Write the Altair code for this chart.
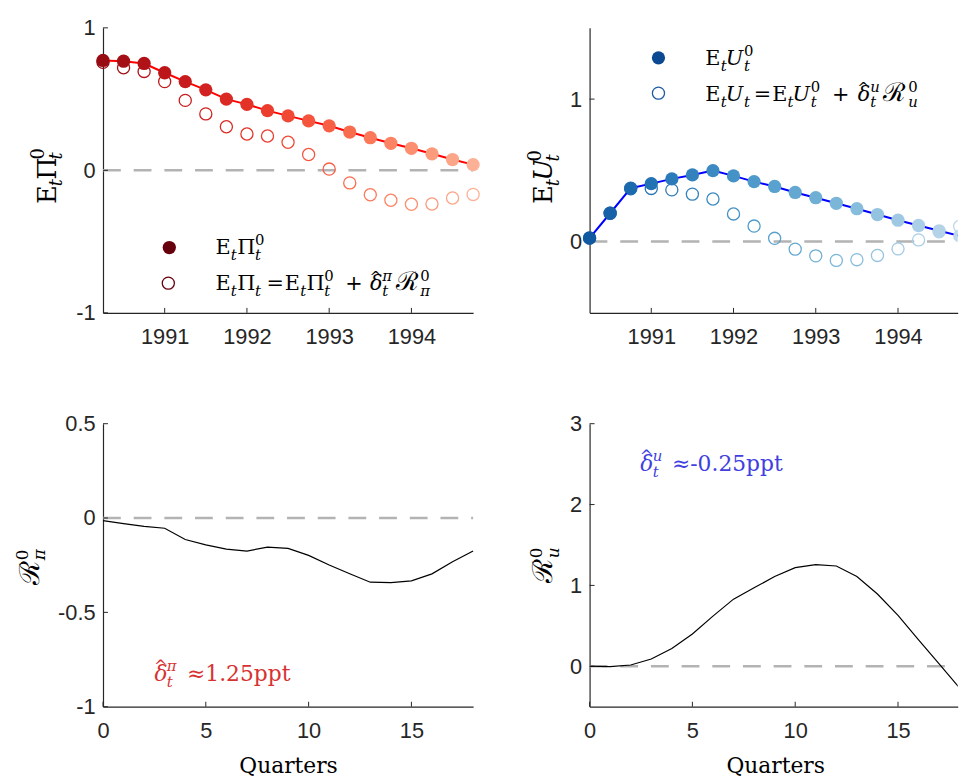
import altair as alt
import pandas as pd

# ---------------- data ----------------
quarters = list(range(19))
dates = [1990.25, 1990.5, 1990.75, 1991.0, 1991.25, 1991.5, 1991.75, 1992.0, 1992.25,
         1992.5, 1992.75, 1993.0, 1993.25, 1993.5, 1993.75, 1994.0, 1994.25, 1994.5, 1994.75]
pi_base = [0.771, 0.766, 0.75, 0.685, 0.623, 0.565, 0.5, 0.463, 0.419, 0.382,
           0.347, 0.3125, 0.269, 0.229, 0.19, 0.155, 0.116, 0.076, 0.04]
pi_total = [0.758, 0.72, 0.694, 0.623, 0.491, 0.396, 0.306, 0.255, 0.241, 0.197,
            0.111, 0.009, -0.088, -0.171, -0.21, -0.238, -0.236, -0.194, -0.169]
u_base = [0.025, 0.199, 0.375, 0.407, 0.44, 0.468, 0.498, 0.461, 0.421, 0.387,
          0.345, 0.308, 0.269, 0.231, 0.19, 0.15, 0.113, 0.076, 0.04]
u_total = [0.025, 0.199, 0.371, 0.373, 0.363, 0.333, 0.299, 0.194, 0.109, 0.023,
           -0.053, -0.1, -0.132, -0.127, -0.097, -0.051, 0.012, 0.069, 0.107]
r_pi = [-0.014, -0.03, -0.044, -0.054, -0.114, -0.142, -0.165, -0.175, -0.154, -0.161,
        -0.198, -0.249, -0.295, -0.34, -0.342, -0.333, -0.296, -0.232, -0.175]
r_u = [0.0, -0.004, 0.016, 0.09, 0.22, 0.40, 0.62, 0.83, 0.97, 1.11,
       1.22, 1.257, 1.24, 1.11, 0.894, 0.63, 0.327, 0.029, -0.27]

year_ticks = [1991, 1992, 1993, 1994]
quarter_ticks = [0, 5, 10, 15]
yticks_tl = [-1, 0, 1]
yticks_tr = [0, 1]
yticks_bl = [-1, -0.5, 0, 0.5]
yticks_br = [0, 1, 2, 3]

top = pd.DataFrame({"k": quarters, "date": dates, "pi0": pi_base, "pi": pi_total,
                    "u0": u_base, "u": u_total})
bot = pd.DataFrame({"q": quarters, "rpi": r_pi, "ru": r_u})
ONE = pd.DataFrame({"o": [0]})
ZERO_DF = pd.DataFrame({"v": [0]})

# ---------------- style ----------------
AX = "#262626"
SERIF = "DejaVu Serif"
W_L, W_R = 374, 372
H_T, H_B = 288, 286
ZERO = dict(strokeDash=[18, 13], color="#b3b3b3", strokeWidth=2.5)
LBL = "replace(datum.label, '\u2212', '-')"

xs_tl = alt.Scale(domain=[1990.25, 1994.75], nice=False, zero=False)
xs_tr = alt.Scale(domain=[1990.25, 1990.25 + 4.5 * W_R / W_L], nice=False, zero=False)
xs_bl = alt.Scale(domain=[0, 18], nice=False, zero=False)
xs_br = alt.Scale(domain=[0, 18 * W_R / W_L], nice=False, zero=False)
ys_tl = alt.Scale(domain=[-1, 1], nice=False, zero=False)
ys_tr = alt.Scale(domain=[-0.5, 1.5], nice=False, zero=False)
ys_bl = alt.Scale(domain=[-1, 0.5], nice=False, zero=False)
ys_br = alt.Scale(domain=[-0.5, 3], nice=False, zero=False)

reds = alt.Scale(scheme={"name": "reds", "extent": [1.0, 0.12]}, domain=[0, 18])
blues = alt.Scale(scheme={"name": "blues", "extent": [0.92, 0.1]}, domain=[0, 18])

ax_year = alt.Axis(values=year_ticks, format="d", title=None)
ax_q_l = alt.Axis(values=quarter_ticks, format="d", title="Quarters")
ax_q_r = alt.Axis(values=quarter_ticks, format="d", title="Quarters", titleX=187.5)


def yax(vals):
    return alt.Axis(values=vals, format="~g", title=None, labelExpr=LBL)


def X(f, s, a):
    return alt.X(f + ":Q", scale=s, axis=a)


def Y(f, s, a):
    return alt.Y(f + ":Q", scale=s, axis=a)


def math_text(pieces, x0, y0, size, color, rotate=False):
    """pieces: (offset, text, role, italic[, size[, dy]])"""
    out = []
    ssz = round(size * 0.7)
    for p in pieces:
        dx, s, role, ital = p[:4]
        if role == "sub":
            fs, off = ssz, 0.27 * size
        elif role == "sup":
            fs, off = ssz, -0.45 * size
        else:
            fs, off = size, 0
        if len(p) > 4 and p[4]:
            fs = p[4]
        if len(p) > 5:
            off = p[5]
        if rotate:
            px, py, ang = x0 + off, y0 - dx, 270
        else:
            px, py, ang = x0 + dx, y0 + off, 0
        out.append(
            alt.Chart(ONE).mark_text(
                text=s, font=SERIF, fontSize=fs,
                fontStyle="italic" if ital else "normal",
                align="left", baseline="alphabetic", angle=ang, color=color,
            ).encode(x=alt.value(px), y=alt.value(py))
        )
    return out


def ticks(xvals, yvals, xs, ys, xa, ya, H):
    return [
        alt.Chart(pd.DataFrame({"v": xvals})).mark_rule(color=AX, strokeWidth=1).encode(
            x=X("v", xs, xa), y=alt.value(H), y2=alt.value(H - 5)),
        alt.Chart(pd.DataFrame({"v": yvals})).mark_rule(color=AX, strokeWidth=1).encode(
            y=Y("v", ys, ya), x=alt.value(0), x2=alt.value(5)),
    ]


def dot(x, y, color, filled, size):
    if filled:
        m = alt.Chart(ONE).mark_point(filled=True, size=size, color=color, opacity=1)
    else:
        m = alt.Chart(ONE).mark_point(filled=False, size=size, color=color, strokeWidth=1.3, opacity=1)
    return m.encode(x=alt.value(x), y=alt.value(y))


HAT = "^"

# ---------------- top-left ----------------
ya = yax(yticks_tl)
tl_layers = [
    alt.Chart(ZERO_DF).mark_rule(**ZERO).encode(y=Y("v", ys_tl, ya), x=alt.value(0), x2=alt.value(W_L)),
    *ticks(year_ticks, yticks_tl, xs_tl, ys_tl, ax_year, ya, H_T),
    alt.Chart(top).mark_point(filled=False, size=150, strokeWidth=1.3, opacity=1).encode(
        x=X("date", xs_tl, ax_year), y=Y("pi", ys_tl, ya),
        color=alt.Color("k:Q", scale=reds, legend=None)),
    alt.Chart(top).mark_line(color="#ff0000", strokeWidth=2).encode(
        x=X("date", xs_tl, ax_year), y=Y("pi0", ys_tl, ya)),
    alt.Chart(top).mark_point(filled=True, size=180, opacity=1).encode(
        x=X("date", xs_tl, ax_year), y=Y("pi0", ys_tl, ya),
        color=alt.Color("k:Q", scale=reds, legend=None)),
    dot(67, 222, "#67000d", True, 180),
    dot(66, 258, "#67000d", False, 150),
    alt.Chart(ONE).mark_point(filled=True, size=1, color="white", opacity=1).encode(
        x=alt.value(-95), y=alt.value(-15)),
]
tl_layers += math_text([(0, "E", "n", False), (15.5, "t", "sub", True), (22, "\u03a0", "n", False),
                        (40, "t", "sub", True), (40, "0", "sup", False)], 113.7, 229, 21, "black")
tl_layers += math_text([(0, "E", "n", False), (15.5, "t", "sub", True), (22, "\u03a0", "n", False),
                        (40, "t", "sub", True), (51.6, "=", "n", False), (70, "E", "n", False),
                        (85.5, "t", "sub", True), (92, "\u03a0", "n", False), (110, "t", "sub", True),
                        (110, "0", "sup", False), (131, "+", "n", False),
                        (156, "\u03b4", "n", True), (155.5, HAT, "n", False, 15, -8),
                        (168.5, "t", "sub", True), (168.5, "\u03c0", "sup", True),
                        (182, "\u211b", "n", False, 26), (207, "\u03c0", "sub", True),
                        (207, "0", "sup", False)], 113.7, 265, 21, "black")
tl_layers += math_text([(0, "E", "n", False), (18, "t", "sub", True), (24.5, "\u03a0", "n", False),
                        (45, "t", "sub", True), (45, "0", "sup", False)], -48, 178, 26, "black", rotate=True)
TL = alt.layer(*tl_layers).properties(width=W_L, height=H_T)

# ---------------- top-right ----------------
ya = yax(yticks_tr)
tr_layers = [
    alt.Chart(ZERO_DF).mark_rule(**ZERO).encode(y=Y("v", ys_tr, ya), x=alt.value(0), x2=alt.value(W_R)),
    *ticks(year_ticks, yticks_tr, xs_tr, ys_tr, ax_year, ya, H_T),
    alt.Chart(top).transform_filter("datum.k < 18").mark_point(
        filled=False, size=150, strokeWidth=1.3, opacity=1).encode(
        x=X("date", xs_tr, ax_year), y=Y("u", ys_tr, ya),
        color=alt.Color("k:Q", scale=blues, legend=None)),
    alt.Chart(top).transform_filter("datum.k >= 18").mark_point(
        filled=False, size=150, strokeWidth=1.3, opacity=1, clip=True).encode(
        x=X("date", xs_tr, ax_year), y=Y("u", ys_tr, ya),
        color=alt.Color("k:Q", scale=blues, legend=None)),
    alt.Chart(top).mark_line(color="#0000ff", strokeWidth=2, clip=True).encode(
        x=X("date", xs_tr, ax_year), y=Y("u0", ys_tr, ya)),
    alt.Chart(top).transform_filter("datum.k < 18").mark_point(filled=True, size=180, opacity=1).encode(
        x=X("date", xs_tr, ax_year), y=Y("u0", ys_tr, ya),
        color=alt.Color("k:Q", scale=blues, legend=None)),
    alt.Chart(top).transform_filter("datum.k >= 18").mark_point(
        filled=True, size=180, opacity=1, clip=True).encode(
        x=X("date", xs_tr, ax_year), y=Y("u0", ys_tr, ya),
        color=alt.Color("k:Q", scale=blues, legend=None)),
    dot(69.6, 30.3, "#0b4a92", True, 180),
    dot(69.6, 66, "#1f5ba3", False, 150),
]
tr_layers += math_text([(0, "E", "n", False), (15.5, "t", "sub", True), (20.5, "U", "n", True),
                        (39, "t", "sub", True), (39, "0", "sup", False)], 117, 38, 21, "black")
tr_layers += math_text([(0, "E", "n", False), (15.5, "t", "sub", True), (20.5, "U", "n", True),
                        (39, "t", "sub", True), (49, "=", "n", False), (67.5, "E", "n", False),
                        (83, "t", "sub", True), (88, "U", "n", True), (106.5, "t", "sub", True),
                        (106.5, "0", "sup", False), (128, "+", "n", False),
                        (154, "\u03b4", "n", True), (153.5, HAT, "n", False, 15, -8),
                        (166.5, "t", "sub", True), (166.5, "u", "sup", True),
                        (180, "\u211b", "n", False, 26), (205, "u", "sub", True),
                        (205, "0", "sup", False)], 117, 74, 21, "black")
tr_layers += math_text([(0, "E", "n", False), (18, "t", "sub", True), (23.5, "U", "n", True),
                        (43, "t", "sub", True), (43, "0", "sup", False)], -37.7, 178, 26, "black", rotate=True)
TR = alt.layer(*tr_layers).properties(width=W_R, height=H_T)

# ---------------- bottom-left ----------------
ya = yax(yticks_bl)
bl_layers = [
    alt.Chart(ZERO_DF).mark_rule(**ZERO).encode(y=Y("v", ys_bl, ya), x=alt.value(0), x2=alt.value(W_L)),
    *ticks(quarter_ticks, yticks_bl, xs_bl, ys_bl, ax_q_l, ya, H_B),
    alt.Chart(bot).mark_line(color="black", strokeWidth=1.2).encode(
        x=X("q", xs_bl, ax_q_l), y=Y("rpi", ys_bl, ya)),
]
bl_layers += math_text([(0, "\u03b4", "n", True), (-0.5, HAT, "n", False, 16, -9),
                        (12.5, "t", "sub", True), (12.5, "\u03c0", "sup", True),
                        (33, "\u22481.25ppt", "n", False)], 52, 260, 22, "#d73232")
bl_layers += math_text([(0, "\u211b", "n", False, 28), (25, "\u03c0", "sub", True), (25, "0", "sup", False)],
                       -65, 163, 24, "black", rotate=True)
BL = alt.layer(*bl_layers).properties(width=W_L, height=H_B)

# ---------------- bottom-right ----------------
ya = yax(yticks_br)
br_layers = [
    alt.Chart(ZERO_DF).mark_rule(**ZERO).encode(y=Y("v", ys_br, ya), x=alt.value(0), x2=alt.value(W_R)),
    *ticks(quarter_ticks, yticks_br, xs_br, ys_br, ax_q_r, ya, H_B),
    alt.Chart(bot).mark_line(color="black", strokeWidth=1.2, clip=True).encode(
        x=X("q", xs_br, ax_q_r), y=Y("ru", ys_br, ya)),
]
br_layers += math_text([(0, "\u03b4", "n", True), (-0.5, HAT, "n", False, 16, -9),
                        (12.5, "t", "sub", True), (12.5, "u", "sup", True),
                        (32, "\u2248-0.25ppt", "n", False)], 51.3, 47.7, 22, "#4040e0")
br_layers += math_text([(0, "\u211b", "n", False, 28), (25, "u", "sub", True), (25, "0", "sup", False)],
                       -37.7, 161, 24, "black", rotate=True)
BR = alt.layer(*br_layers).properties(width=W_R, height=H_B)

chart = (
    alt.concat(TL, TR, BL, BR, columns=2, spacing={"row": 112, "column": 117.7}, bounds="flush")
    .resolve_scale(color="independent")
    .properties(padding=0)
    .configure_view(stroke=None)
    .configure_axis(
        domainColor=AX, domainWidth=1.2, labelFont="Liberation Sans", labelFontSize=22,
        labelColor=AX, ticks=False, tickSize=0, grid=False, labelFlush=False,
        titleFont=SERIF, titleFontSize=22, titleFontWeight="normal", titleColor="black",
        titlePadding=14,
    )
    .configure_axisX(labelPadding=14)
    .configure_axisY(labelPadding=8)
)

chart.save("out.html", embed_options={"renderer": "svg", "actions": False})
